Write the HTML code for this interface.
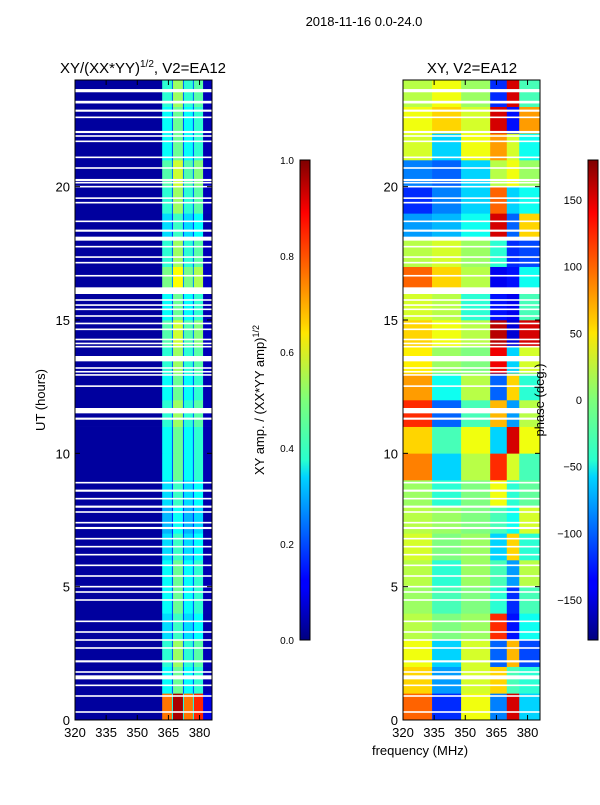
<!DOCTYPE html>
<html><head><meta charset="utf-8"><style>
body{margin:0;background:#fff;width:600px;height:800px;overflow:hidden;font-family:"Liberation Sans","DejaVu Sans",sans-serif}
svg text{font-family:"Liberation Sans","DejaVu Sans",sans-serif;fill:#000}
</style></head><body>
<svg id="fig" width="600" height="800" xmlns="http://www.w3.org/2000/svg">
<defs>
<linearGradient id="jet" x1="0" y1="1" x2="0" y2="0">
<stop offset="0" stop-color="#00007f"/><stop offset="0.11" stop-color="#0000ff"/><stop offset="0.125" stop-color="#0000ff"/>
<stop offset="0.34" stop-color="#00d4ff"/><stop offset="0.375" stop-color="#29ffce"/><stop offset="0.5" stop-color="#7dff7a"/>
<stop offset="0.64" stop-color="#ffe600"/><stop offset="0.66" stop-color="#ffd000"/><stop offset="0.89" stop-color="#ff0000"/><stop offset="1" stop-color="#7f0000"/>
</linearGradient></defs>
<text x="364" y="26" font-size="13" text-anchor="middle">2018-11-16 0.0-24.0</text>
<text x="143" y="73" font-size="15" text-anchor="middle">XY/(XX*YY)<tspan font-size="10" dy="-6">1/2</tspan><tspan dy="6">, V2=EA12</tspan></text>
<text x="472" y="73" font-size="15" text-anchor="middle">XY, V2=EA12</text>
<g id="left"></g>
<g id="right"></g>
<rect x="75" y="80" width="137" height="640" fill="none" stroke="#000" stroke-width="1"/>
<rect x="403" y="80" width="137" height="640" fill="none" stroke="#000" stroke-width="1"/>
<g id="axes"></g>
<text transform="translate(45,400) rotate(-90)" font-size="13" text-anchor="middle">UT (hours)</text>
<text x="420" y="755" font-size="13" text-anchor="middle">frequency (MHz)</text>
<rect x="300" y="160" width="10" height="480" fill="url(#jet)" stroke="#000"/>
<rect x="588" y="160" width="10" height="480" fill="url(#jet)" stroke="#000"/>
<text transform="translate(264,400) rotate(-90)" font-size="13" text-anchor="middle">XY amp. / (XX*YY amp)<tspan font-size="9" dy="-5">1/2</tspan></text>
<text transform="translate(544,400) rotate(-90)" font-size="13" text-anchor="middle">phase (deg.)</text>
</svg>
<script>
const ampTicks=[0.0,0.2,0.4,0.6,0.8,1.0];
const phaseTicks=[-150,-100,-50,0,50,100,150];
const utTicks=[0,5,10,15,20];
const freqTicks=[320,335,350,365,380];
const ampEdges=[320,362,366.7,367.2,372,372.5,376.8,377.3,381.7,386];
const ampCols=[0.03,0.38,0.2,0.48,0.2,0.38,0.2,0.42,0.05];
const ampRowFactor=[2.0,1.0,1.1,0.9,1.0,1.0,0.9,0.8,0.9,1.0,1.0,1.1,1.0,1.1,1.2,1.0,1.3,1.1,0.9,1.1,1.2,1.0,1.0,1.1];
const phaseEdges=[320,334,348,362,370,376,386];
const phaseRows=[
[100,-120,40,-90,150,-60],[60,-80,30,60,-20,-30],[40,-60,30,-100,70,-110],[20,0,10,120,-130,-40],
[10,-20,0,-30,-120,-20],[20,-30,10,-20,-80,20],[30,0,10,-60,60,-30],[20,10,0,-20,-40,30],
[10,-30,0,40,-30,-10],[90,-60,20,120,30,-20],[60,-20,40,-60,150,40],[120,-100,-20,70,-80,20],
[80,-40,20,-100,60,-30],[50,10,0,140,-60,30],[60,40,20,160,-150,150],[30,20,-30,-130,-140,-20],
[100,60,20,-140,-130,-40],[20,30,10,-30,-120,-110],[-80,-70,-40,150,-100,60],[-120,-90,-60,100,-60,-40],
[-90,-100,-60,20,40,10],[30,-60,40,80,30,-40],[40,60,30,150,-130,80],[20,40,10,-120,150,-20]];
const gapUT=[23.6,23.17,22.85,22.6,22.05,21.9,21.7,21.1,20.7,20.25,20.15,20.0,19.57,19.4,18.7,18.35,18.05,17.75,17.36,17.15,16.66,16.1,15.75,15.56,15.4,15.15,14.87,14.65,14.27,14.12,14.0,13.55,13.2,13.06,12.94,12.52,11.6,11.3,8.9,8.6,8.3,8.0,7.8,7.4,7.2,6.8,6.5,6.2,5.8,5.4,5.0,4.8,4.5,3.7,3.3,3.0,2.7,2.2,1.8,1.6,1.3,0.9,0.3];
const gapHours=[0.12,0.1,0.08,0.06,0.08,0.06,0.06,0.06,0.06,0.08,0.06,0.06,0.06,0.06,0.06,0.08,0.15,0.06,0.06,0.06,0.06,0.25,0.06,0.06,0.06,0.06,0.06,0.06,0.06,0.06,0.06,0.2,0.06,0.06,0.06,0.06,0.2,0.08,0.06,0.08,0.06,0.08,0.06,0.06,0.08,0.06,0.06,0.06,0.06,0.06,0.06,0.06,0.06,0.06,0.06,0.06,0.06,0.08,0.06,0.15,0.06,0.06,0.06];

const NS='http://www.w3.org/2000/svg';
function jet(v){v=Math.max(0,Math.min(1,v));
 const r=Math.min(4*v-1.5,-4*v+4.5),g=Math.min(4*v-0.5,-4*v+3.5),b=Math.min(4*v+0.5,-4*v+2.5);
 const c=x=>Math.round(255*Math.max(0,Math.min(1,x)));return `rgb(${c(r)},${c(g)},${c(b)})`;}
function yUT(u){return 720-u*640/24;}
function xL(f){return 75+(f-320)*137/66;}
function xR(f){return 403+(f-320)*137/66;}
function mk(tag,parent,attrs){const e=document.createElementNS(NS,tag);for(const k in attrs)e.setAttribute(k,attrs[k]);parent.appendChild(e);return e;}
const L=document.getElementById('left'),R=document.getElementById('right'),A=document.getElementById('axes');
for(let h=0;h<24;h++){
 for(let c=0;c<ampCols.length;c++){
  const v=c===0?ampCols[c]:ampCols[c]*ampRowFactor[h];
  const r=mk('rect',L,{x:xL(ampEdges[c]),y:yUT(h+1),width:xL(ampEdges[c+1])-xL(ampEdges[c])+0.3,height:640/24+0.3,fill:jet(v)});
  
  
 }
 for(let c=0;c<phaseRows[h].length;c++){
  const v=(phaseRows[h][c]+180)/360;
  const r=mk('rect',R,{x:xR(phaseEdges[c]),y:yUT(h+1),width:xR(phaseEdges[c+1])-xR(phaseEdges[c])+0.3,height:640/24+0.3,fill:jet(v)});
  
  
 }
}
gapUT.forEach((u,i)=>{const hh=gapHours[i]*640/24;
 [[75,L],[403,R]].forEach(([x0,g])=>{
  const r=mk('rect',g,{x:x0,y:yUT(u)-hh/2,width:137,height:hh,fill:'#fff'});
  
  
 });});
function txt(x,y,s,anchor,name){const t=mk('text',A,{x:x,y:y,'font-size':13,'text-anchor':anchor});t.textContent=s;
 
 }
utTicks.forEach(u=>{const y=yUT(u);
 [75,403].forEach(x0=>{mk('line',A,{x1:x0,x2:x0+5,y1:y,y2:y,stroke:'#000'});mk('line',A,{x1:x0+137,x2:x0+132,y1:y,y2:y,stroke:'#000'});
  txt(x0-5,y+5,String(u),'end','y-tick-label');});});
freqTicks.forEach(f=>{[[xL,75],[xR,403]].forEach(([fx])=>{const x=fx(f);
 mk('line',A,{x1:x,x2:x,y1:720,y2:715,stroke:'#000'});mk('line',A,{x1:x,x2:x,y1:80,y2:85,stroke:'#000'});
 txt(x,737,String(f),'middle','x-tick-label');});});
ampTicks.forEach(v=>{const y=640-v*480;mk('line',A,{x1:300,x2:304,y1:y,y2:y,stroke:'#000'});mk('line',A,{x1:310,x2:306,y1:y,y2:y,stroke:'#000'});
 const t=mk('text',A,{x:294,y:y+4,'font-size':10,'text-anchor':'end'});t.textContent=v.toFixed(1);
 
 });
phaseTicks.forEach(v=>{const y=400-v*480/360;mk('line',A,{x1:588,x2:592,y1:y,y2:y,stroke:'#000'});mk('line',A,{x1:598,x2:594,y1:y,y2:y,stroke:'#000'});
 const t=mk('text',A,{x:582,y:y+4,'font-size':11,'text-anchor':'end'});t.textContent=v<0?'\u2212'+(-v):String(v);
 
 });
</script>
</body></html>
